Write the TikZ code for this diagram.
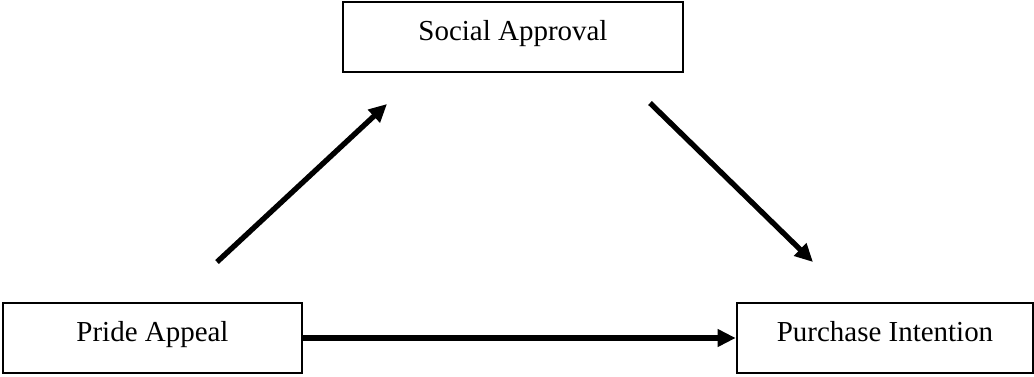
\documentclass[tikz,border=0pt]{standalone}
\usepackage{fontspec}
\setmainfont{Liberation Serif}
\usetikzlibrary{arrows.meta,positioning}

\tikzset{
	varbox/.style={draw, line width=1.8pt, inner sep=0pt, align=center,
		text height=0.95cm, text depth=0.8cm,
		font=\fontsize{20.6}{24}\selectfont},
	patharrow/.style={line width=3.8pt,
		-{Triangle[length=0.45cm, width=0.42cm]}}
}

\begin{document}
\begin{tikzpicture}[x=0.025cm, y=-0.025cm]

	\useasboundingbox (0,0) rectangle (1034,376);

	\node[varbox, minimum width=8.5cm] (approval) at (513,37) {Social Approval};
	\node[varbox, minimum width=7.47cm] (pride) at (152.5,338) {Pride Appeal};
	\node[varbox, minimum width=7.4cm] (intention) at (885,338) {Purchase Intention};

	\coordinate (a1) at (217,262);
	\coordinate (a2) at (387,104);
	\coordinate (b1) at (650,103);
	\coordinate (b2) at (813,262);

	\draw[patharrow] (a1) -- (a2);
	\draw[patharrow] (b1) -- (b2);
	\draw[patharrow] (pride.east) -- (intention.west);

\end{tikzpicture}
\end{document}
